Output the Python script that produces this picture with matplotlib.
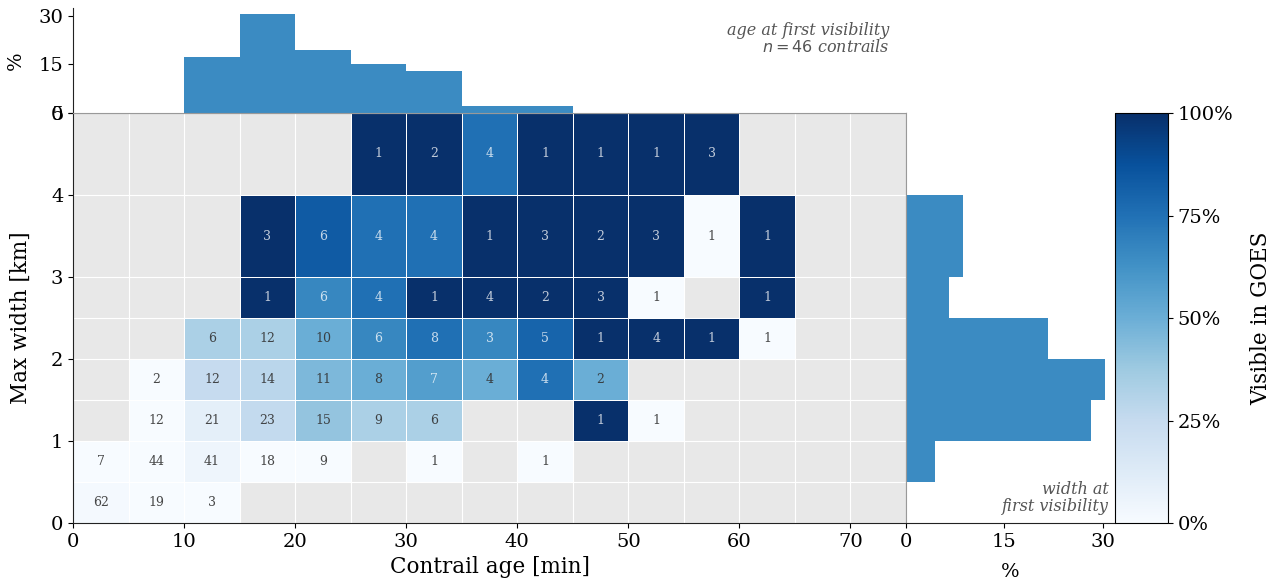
import matplotlib
matplotlib.use("Agg")
import matplotlib.pyplot as plt
import numpy as np
from matplotlib.ticker import PercentFormatter

plt.rcParams["font.family"] = "DejaVu Serif"

# --- data ---
age_edges = np.arange(0, 80, 5)                       # contrail age bins [min]
width_edges = np.array([0, 0.5, 1, 1.5, 2, 2.5, 3, 4, 5])  # max width bins [km]

# observations per cell, rows = width bins (bottom to top), cols = age bins
counts = np.array([
    [62, 19,  3,  0,  0, 0, 0, 0, 0, 0, 0, 0, 0, 0, 0],
    [ 7, 44, 41, 18,  9, 0, 1, 0, 1, 0, 0, 0, 0, 0, 0],
    [ 0, 12, 21, 23, 15, 9, 6, 0, 0, 1, 1, 0, 0, 0, 0],
    [ 0,  2, 12, 14, 11, 8, 7, 4, 4, 2, 0, 0, 0, 0, 0],
    [ 0,  0,  6, 12, 10, 6, 8, 3, 5, 1, 4, 1, 1, 0, 0],
    [ 0,  0,  0,  1,  6, 4, 1, 4, 2, 3, 1, 0, 1, 0, 0],
    [ 0,  0,  0,  3,  6, 4, 4, 1, 3, 2, 3, 1, 1, 0, 0],
    [ 0,  0,  0,  0,  0, 1, 2, 4, 1, 1, 1, 3, 0, 0, 0],
])
# of those, how many were visible in GOES
visible = np.array([
    [1, 0, 0, 0, 0, 0, 0, 0, 0, 0, 0, 0, 0, 0, 0],
    [0, 0, 2, 0, 0, 0, 0, 0, 0, 0, 0, 0, 0, 0, 0],
    [0, 0, 2, 6, 6, 3, 2, 0, 0, 1, 0, 0, 0, 0, 0],
    [0, 0, 3, 4, 5, 4, 4, 2, 3, 1, 0, 0, 0, 0, 0],
    [0, 0, 2, 4, 5, 4, 6, 2, 4, 1, 4, 1, 0, 0, 0],
    [0, 0, 0, 1, 4, 3, 1, 4, 2, 3, 0, 0, 1, 0, 0],
    [0, 0, 0, 3, 5, 3, 3, 1, 3, 2, 3, 0, 1, 0, 0],
    [0, 0, 0, 0, 0, 1, 2, 3, 1, 1, 1, 3, 0, 0, 0],
])

# first-visibility histograms (contrail counts)
n_contrails = 46
age_first = [0, 0, 8, 14, 9, 7, 6, 1, 1, 0, 0, 0, 0, 0, 0]
width_first = [0, 2, 13, 14, 10, 3, 4, 0]

TICK = 14
LABEL = 15.5

# --- figure ---
fig = plt.figure(figsize=(12.77, 5.87), dpi=100)
ax = fig.add_axes([0.0572, 0.109, 0.6523, 0.6985])
ax_top = fig.add_axes([0.0572, 0.8075, 0.6523, 0.179], sharex=ax)
ax_right = fig.add_axes([0.7095, 0.109, 0.1637, 0.6985], sharey=ax)
cax = fig.add_axes([0.873, 0.109, 0.0415, 0.6985])

cmap = plt.get_cmap("Blues")
frac = np.ma.masked_where(counts == 0, visible / np.maximum(counts, 1))

ax.set_facecolor("#e8e8e8")
mesh = ax.pcolormesh(age_edges, width_edges, frac, cmap=cmap, vmin=0, vmax=1,
                     edgecolors="white", linewidth=0.6)
# white grid over the empty cells too
ax.vlines(age_edges, 0, 5, color="white", lw=0.8, zorder=1)
ax.hlines(width_edges, 0, 75, color="white", lw=0.8, zorder=1)
mesh.set_zorder(2)

xc = (age_edges[:-1] + age_edges[1:]) / 2
yc = (width_edges[:-1] + width_edges[1:]) / 2
for i, y in enumerate(yc):
    for j, x in enumerate(xc):
        if counts[i, j] == 0:
            continue
        light = frac[i, j] > 0.5
        ax.text(x, y, str(counts[i, j]), ha="center", va="center", fontsize=9,
                color="white" if light else "#333333",
                alpha=0.75 if light else 0.9, zorder=3)

ax.set_xlim(0, 75)
ax.set_ylim(0, 5)
ax.set_xticks(range(0, 80, 10))
ax.set_yticks(range(0, 6))
ax.tick_params(labelsize=TICK)
ax.set_xlabel("Contrail age [min]", fontsize=LABEL, labelpad=4)
ax.set_ylabel("Max width [km]", fontsize=LABEL, labelpad=14)
for s in ["top", "right"]:
    ax.spines[s].set_color("#999999")
for s in ["left", "bottom"]:
    ax.spines[s].set_color("#222222")

hist_color = cmap(0.65)

# top histogram
ax_top.bar(age_edges[:-1], np.array(age_first) / n_contrails * 100,
           width=np.diff(age_edges), align="edge", color=hist_color, lw=0)
ax_top.set_ylim(0, 32.4)
ax_top.set_yticks([0, 15, 30])
ax_top.set_ylabel("%", fontsize=TICK, labelpad=10)
ax_top.tick_params(labelsize=TICK, labelbottom=False, bottom=False)
ax_top.spines["top"].set_visible(False)
ax_top.spines["right"].set_visible(False)
ax_top.spines["bottom"].set_color("#999999")
ax_top.spines["left"].set_color("#222222")
ax_top.text(0.98, 0.70, "age at first visibility\n$n = 46$ contrails",
            transform=ax_top.transAxes, ha="right", va="center",
            fontsize=11.5, style="italic", color="#555555", linespacing=1.0)

# right histogram
ax_right.barh(width_edges[:-1], np.array(width_first) / n_contrails * 100,
              height=np.diff(width_edges), align="edge", color=hist_color, lw=0)
ax_right.set_xlim(0, 31.9)
ax_right.set_xticks([0, 15, 30])
ax_right.set_xlabel("%", fontsize=TICK, labelpad=9)
ax_right.tick_params(labelsize=TICK, labelleft=False, left=False)
ax_right.spines["top"].set_visible(False)
ax_right.spines["right"].set_visible(False)
ax_right.spines["left"].set_color("#999999")
ax_right.spines["bottom"].set_color("#222222")
ax_right.text(0.97, 0.02, "width at\nfirst visibility",
              transform=ax_right.transAxes, ha="right", va="bottom",
              fontsize=11.5, style="italic", color="#555555", linespacing=1.0)

cb = fig.colorbar(mesh, cax=cax)
cb.set_ticks([0, 0.25, 0.5, 0.75, 1.0])
cb.ax.yaxis.set_major_formatter(PercentFormatter(1.0, decimals=0))
cb.ax.tick_params(labelsize=TICK)
cb.set_label("Visible in GOES", fontsize=LABEL, labelpad=12)

fig.savefig("out.png", dpi=100)
